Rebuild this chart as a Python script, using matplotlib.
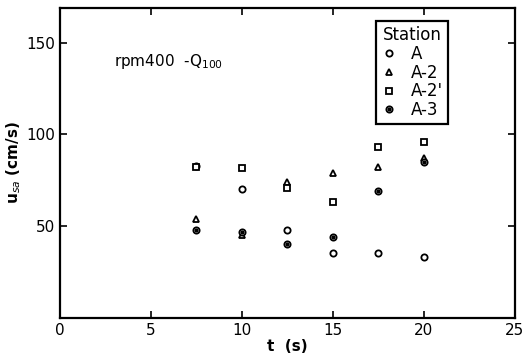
import matplotlib.pyplot as plt
from matplotlib.legend_handler import HandlerTuple

t = [7.5, 10, 12.5, 15, 17.5, 20]
u_A = [83, 70, 48, 35.5, 35.5, 33]
u_A2 = [54, 45, 74, 79, 82, 87]
u_A2p = [82, 81.5, 71, 63, 93, 96]
u_A3 = [48, 47, 40, 44, 69, 85]

fig = plt.figure(figsize=(5.25, 3.61), dpi=100)
ax = fig.add_axes([0.114, 0.12, 0.866, 0.858])

ms = 4.5
kw = dict(linestyle='none', color='black', markerfacecolor='white', markeredgewidth=1.3, markersize=ms)
hA, = ax.plot(t, u_A, marker='o', **kw)
hA2, = ax.plot(t, u_A2, marker='^', **kw)
hA2p, = ax.plot(t, u_A2p, marker='s', **kw)
hA3, = ax.plot(t, u_A3, marker='o', **kw)
hA3d, = ax.plot(t, u_A3, marker='o', linestyle='none', color='black', markersize=2)

ax.set_xlim(0, 25)
ax.set_ylim(0, 169)
ax.set_xticks([0, 5, 10, 15, 20, 25])
ax.set_yticks([50, 100, 150])
ax.tick_params(direction='in', length=5, width=1.2, top=True, right=True, labelsize=11)
for s in ax.spines.values():
    s.set_linewidth(1.6)

ax.set_xlabel('t  (s)', fontsize=11, fontweight='bold', labelpad=1)
ax.set_ylabel('u$_{sa}$ (cm/s)', fontsize=11, fontweight='bold', labelpad=2)
ax.text(3.0, 140, 'rpm400  -Q$_{100}$', fontsize=11, va='center')

leg = ax.legend([hA, hA2, hA2p, (hA3, hA3d)], ['A', 'A-2', "A-2'", 'A-3'],
                title='Station', loc='upper right', bbox_to_anchor=(0.872, 0.985),
                handler_map={tuple: HandlerTuple(ndivide=1)},
                fancybox=False, framealpha=1, edgecolor='black',
                fontsize=12, title_fontsize=12, handlelength=1.0,
                handletextpad=0.8, borderpad=0.3, labelspacing=0.05)
leg.get_frame().set_linewidth(1.6)

fig.savefig('out.png', dpi=100)
